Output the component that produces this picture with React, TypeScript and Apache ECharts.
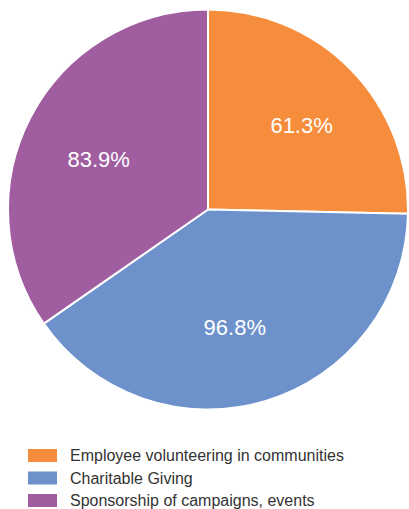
import React, { useEffect, useRef } from "react";
import * as echarts from "echarts";

// Community engagement breakdown
const categories = [
  "Employee volunteering in communities",
  "Charitable Giving",
  "Sponsorship of campaigns, events",
];
const values = [61.3, 96.8, 83.9];
const colors = ["#F68D3C", "#6C91CB", "#A05EA1"];

// small nudges for the in-slice percentage labels
const labelNudge: [number, number][] = [
  [20, -12],
  [-3, 19],
  [-18, -2],
];

export default function App() {
  const ref = useRef<HTMLDivElement>(null);

  useEffect(() => {
    if (!ref.current) return;
    const chart = echarts.init(ref.current, null, { renderer: "svg" });
    chart.setOption({
      animation: false,
      color: colors,
      legend: {
        orient: "vertical",
        left: 26,
        top: 447,
        padding: 0,
        height: 62,
        itemWidth: 31,
        itemHeight: 15,
        itemGap: 5.5,
        icon: "rect",
        selectedMode: false,
        textStyle: {
          fontFamily: "Liberation Sans, Arial, sans-serif",
          fontSize: 16,
          lineHeight: 15,
          color: "#333333",
          padding: [0, 0, 0, 7],
        },
        data: categories,
      },
      series: [
        {
          type: "pie",
          center: [208, 209.5],
          radius: [0, 200],
          startAngle: 90,
          clockwise: true,
          silent: true,
          itemStyle: { borderColor: "#ffffff", borderWidth: 2 },
          label: {
            show: true,
            position: "inside",
            formatter: (p: any) => `${p.value}%`,
            color: "#ffffff",
            fontSize: 22,
            fontFamily: "Liberation Sans, Arial, sans-serif",
          },
          labelLine: { show: false },
          labelLayout: (p: any) => {
            const n = labelNudge[p.dataIndex] || [0, 0];
            return { dx: n[0], dy: n[1] };
          },
          data: categories.map((name, i) => ({ name, value: values[i] })),
        },
      ],
    });
    return () => chart.dispose();
  }, []);

  return (
    <div
      ref={ref}
      style={{ position: "absolute", left: 0, top: 0, width: 409, height: 509 }}
    />
  );
}
